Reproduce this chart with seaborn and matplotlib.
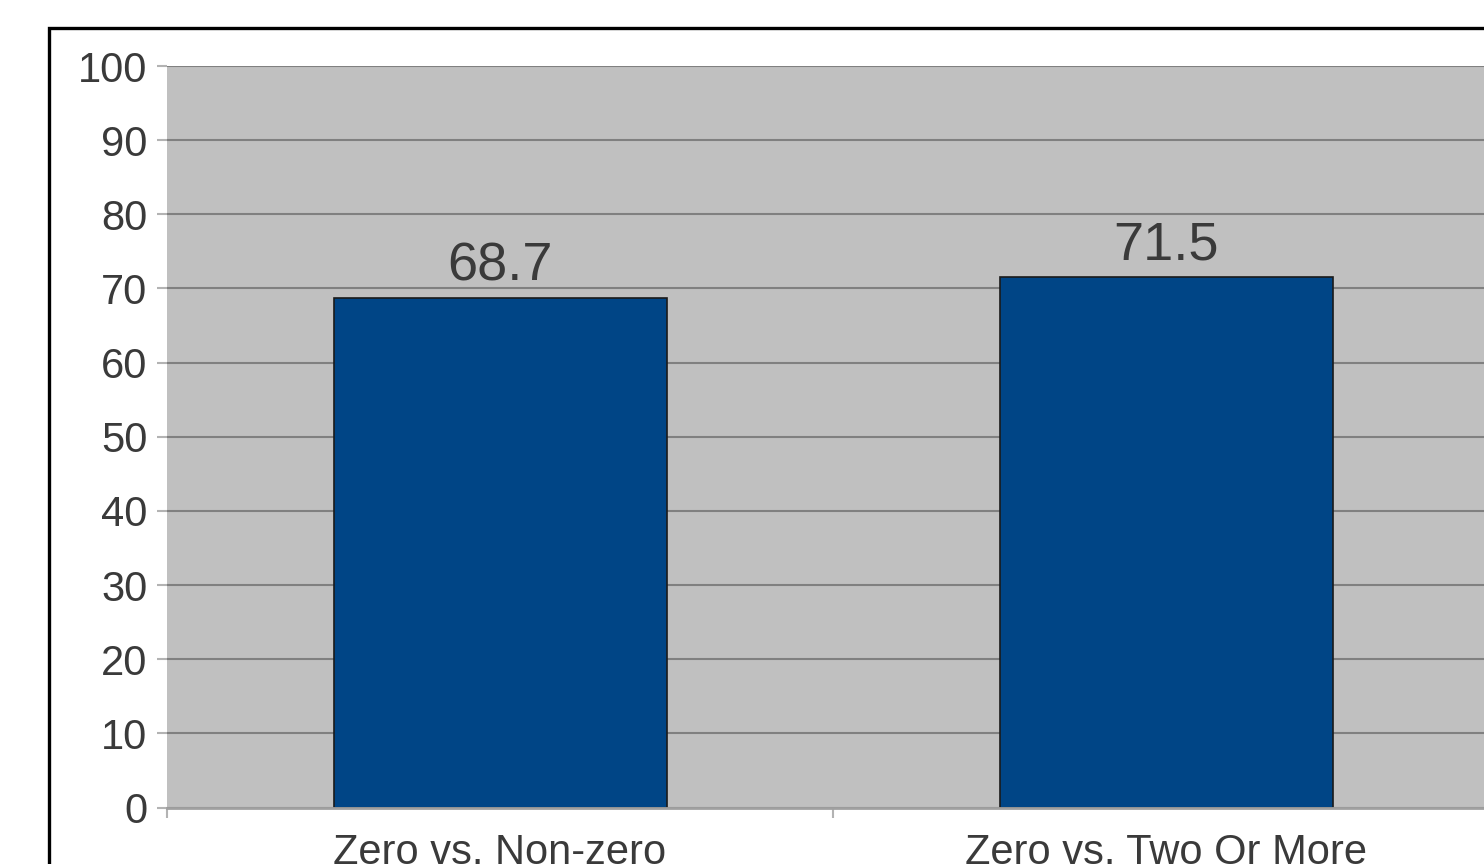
import matplotlib
matplotlib.use("Agg")
import matplotlib.pyplot as plt
import seaborn as sns
import pandas as pd
from matplotlib.patches import Rectangle

categories = ["Zero vs. Non-zero", "Zero vs. Two Or More"]
values = [68.7, 71.5]
yticks = [0, 10, 20, 30, 40, 50, 60, 70, 80, 90, 100]

sns.set_theme(style="white")
plt.rcParams['font.family'] = ['Liberation Sans', 'DejaVu Sans']

W, H = 1484, 864
fig = plt.figure(figsize=(W / 100, H / 100), dpi=100)
fig.patch.set_facecolor("white")

left, right = 167 / W, 1499 / W
bottom, top = (H - 807.5) / H, (H - 66) / H
ax = fig.add_axes([left, bottom, right - left, top - bottom])
ax.set_facecolor("#c0c0c0")

df = pd.DataFrame({"cat": categories, "val": values})
sns.barplot(data=df, x="cat", y="val", color="#004586", saturation=1,
            width=0.5, edgecolor="#1a1a1a", linewidth=1.2, ax=ax, zorder=3)

ax.set_xlim(-0.5, 1.5)
ax.set_ylim(0, 100)
ax.set_yticks(yticks)
ax.set_yticklabels([str(t) for t in yticks])
ax.yaxis.grid(True, color="#808080", linewidth=1.5, zorder=1)
ax.xaxis.grid(False)
ax.set_axisbelow(True)

for sp in ["top", "right", "left"]:
    ax.spines[sp].set_visible(False)
ax.spines["bottom"].set_color("#a0a0a0")
ax.spines["bottom"].set_linewidth(2)
ax.spines["bottom"].set_zorder(4)

ax.set_xlabel("")
ax.set_ylabel("")

txt_color = "#3a3a3a"
ax.tick_params(axis="y", which="major", length=7.5, width=1.5, color="#b3b3b3",
               labelsize=30, labelcolor=txt_color, pad=6.5, left=True)
ax.tick_params(axis="x", which="major", length=0, labelsize=30,
               labelcolor=txt_color, pad=18.5)
ax.set_xticks([-0.5, 0.5, 1.5], minor=True)
ax.tick_params(axis="x", which="minor", length=7.5, width=1.5, color="#b3b3b3",
               bottom=True)

for c in ax.containers:
    ax.bar_label(c, labels=[f"{v:.1f}" for v in values], padding=5,
                 fontsize=39, color=txt_color)

# outer border of chart object (cropped)
rect = Rectangle((48.5 / W, -0.1), 1.2, 1.1 - 28.5 / H, transform=fig.transFigure,
                 fill=False, edgecolor="black", linewidth=2.4, clip_on=False)
fig.patches.append(rect)

fig.savefig("out.png", dpi=100)
